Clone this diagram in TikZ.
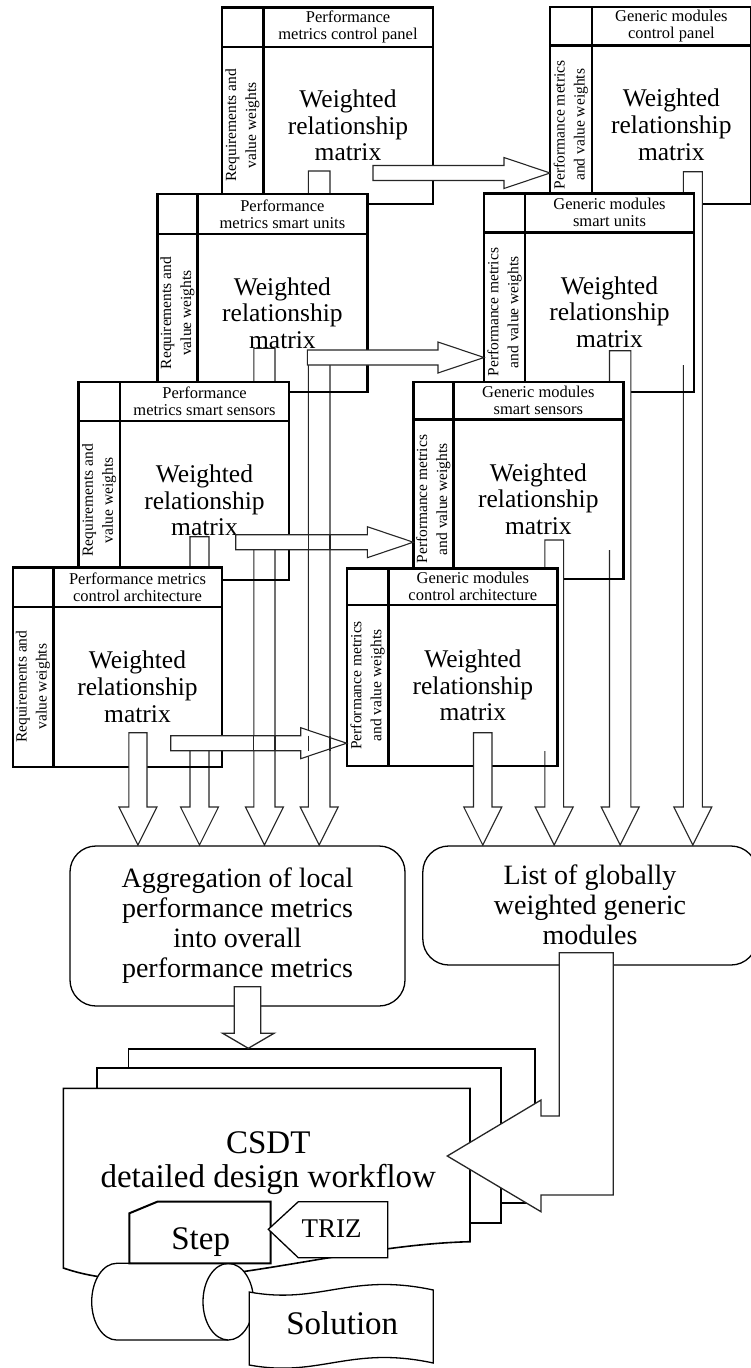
\documentclass[tikz,border=0pt]{standalone}
\usepackage{fontspec}
\setmainfont{Liberation Serif}
\tikzset{
  boxline/.style={draw,line width=2.4pt},
  headtxt/.style={align=center,inner sep=0pt,font=\fontsize{16.5}{17}\selectfont},
  sidetxt/.style={align=center,inner sep=0pt,rotate=90,font=\fontsize{15.5}{20}\selectfont},
  mattxt/.style={align=center,inner sep=0pt,font=\fontsize{25.5}{26.7}\selectfont},
  blk/.style={draw=black!85,line width=1.1pt,fill=white},
  shaftline/.style={draw=black!85,line width=1.1pt},
  roundbox/.style={draw,line width=1.3pt,fill=white,rounded corners=26pt},
  bigtxt/.style={align=center,inner sep=0pt,font=\fontsize{28}{30}\selectfont},
  sheet/.style={draw,fill=white,line width=1.3pt},
}
% box: name, left, top, right, bottom, column x, header y, header, side text
\newcommand{\wrmbox}[9]{%
  \draw[boxline] (#2,#3) rectangle (#4,#5);
  \draw[boxline] (#6,#3) -- (#6,#5);
  \draw[boxline] (#2,#7) -- (#4,#7);
  \node[headtxt] (#1-head) at ({(#6+#4)/2},{(#3+#7)/2}) {#8};
  \node[sidetxt] (#1-side) at ({(#2+#6)/2},{(#7+#5)/2}) {#9};
  \node[mattxt] (#1-mat) at ({(#6+#4)/2},{(#7+#5)/2}) {Weighted\\relationship\\matrix};
}
% block arrow down: left, right, top, tip
\newcommand{\downblk}[4]{%
  \pgfmathsetmacro{\blkmid}{(#1+#2)/2}
  \draw[blk] (#1,#3) -- (#1,#4-38) -- (\blkmid-19,#4-38) -- (\blkmid,#4)
    -- (\blkmid+19,#4-38) -- (#2,#4-38) -- (#2,#3) -- cycle;
}
% block arrow right: start, centre y, tip
\newcommand{\rightblk}[3]{%
  \draw[blk] (#1,#2-7.5) -- (#3-46,#2-7.5) -- (#3-46,#2-15.5) -- (#3,#2)
    -- (#3-46,#2+15.5) -- (#3-46,#2+7.5) -- (#1,#2+7.5) -- cycle;
}

\begin{document}
\begin{tikzpicture}[x=1pt,y=-1pt]
\useasboundingbox (0,0) rectangle (750,1368);

% control panel
\fill[white] (221.7,7.3) rectangle (432.7,204);
\wrmbox{pcp}{221.7}{7.3}{432.7}{204}{263.3}{46.7}{Performance\\metrics control panel}{Requirements and\\value weights}
\downblk{308.3}{330}{171}{845}
\fill[white] (550,6.7) rectangle (751,204);
\wrmbox{gcp}{550}{6.7}{751}{204}{591.7}{45.5}{Generic modules\\control panel}{Performance metrics\\and value weights}
\downblk{683.3}{702.4}{171.7}{845}
\rightblk{373}{173}{550}

% smart units
\fill[white] (157.3,194) rectangle (367.5,365);
\wrmbox{psu}{157.3}{194}{367.5}{392}{197.3}{234}{Performance\\metrics smart units}{Requirements and\\value weights}
\downblk{253.8}{275}{348.3}{845}
\fill[white] (484,193.3) rectangle (694,365);
\wrmbox{gsu}{484}{193.3}{694}{392}{525}{232.3}{Generic modules\\smart units}{Performance metrics\\and value weights}
\downblk{609.5}{630.8}{350.7}{845}
\rightblk{307.3}{357.5}{484}

% smart sensors
\fill[white] (78.3,381.7) rectangle (289,550);
\wrmbox{pss}{78.3}{381.7}{289}{580}{120}{420.7}{Performance\\metrics smart sensors}{Requirements and\\value weights}
\downblk{190}{209}{536.7}{845}
\fill[white] (413.3,381.7) rectangle (623.3,550);
\wrmbox{gss}{413.3}{381.7}{623.3}{579}{453.3}{419.3}{Generic modules\\smart sensors}{Performance metrics\\and value weights}
\downblk{544.8}{563.6}{540}{845}
\rightblk{235.7}{542.2}{413.3}
\draw[shaftline] (308.3,534.7) -- (308.3,549.7) (330,534.7) -- (330,549.7);

% control architecture
\fill[white] (12.7,567.3) rectangle (221.7,751);
\wrmbox{pca}{12.7}{567.3}{221.7}{766.7}{53.3}{606.7}{Performance metrics\\control architecture}{Requirements and\\value weights}
\downblk{128.8}{147}{732.7}{845}
\fill[white] (346.7,568.3) rectangle (557.3,751);
\wrmbox{gca}{346.7}{568.3}{557.3}{765.7}{388.3}{605}{Generic modules\\control architecture}{Performance metrics\\and value weights}
\downblk{473.5}{492}{732.7}{845}
\rightblk{170.7}{743.2}{346.7}
\draw[shaftline] (253.8,735.7) -- (253.8,750.7) (275,735.7) -- (275,750.7)
  (308.3,735.7) -- (308.3,750.7) (330,735.7) -- (330,750.7);

% aggregation and list
\draw[roundbox] (70,846) rectangle (405,1006);
\node[bigtxt] (agg) at (237.5,925.5) {Aggregation of local\\performance metrics\\into overall\\performance metrics};
\draw[roundbox] (422.8,846) rectangle (757,965);
\node[bigtxt] (list) at (590,905) {List of globally\\weighted generic\\modules};

% workflow sheets
\draw[sheet] (128.3,1049) rectangle (535,1203);
\draw[sheet,line width=1.9pt] (97.3,1068.3) rectangle (500.7,1223.3);
\draw[sheet,line width=1.6pt] (63.3,1268) -- (63.3,1088.3) -- (470,1088.3) -- (470,1241.7)
  .. controls (330,1245) and (170,1305) .. (63.3,1268) -- cycle;
\node[align=center,inner sep=0pt,font=\fontsize{33}{34}\selectfont] (csdt) at (268.3,1163) {CSDT\\detailed design workflow};

\draw[blk,line width=1.3pt] (234.3,986.7) -- (234.3,1033.3) -- (222.7,1033.3) -- (248.3,1048.3)
  -- (274,1033.3) -- (260.7,1033.3) -- (260.7,986.7) -- cycle;
\draw[blk,line width=1.3pt] (559.3,952.7) -- (559.3,1116) -- (541,1116) -- (541,1100) -- (447.3,1156)
  -- (541,1211.7) -- (541,1195) -- (613.3,1195) -- (613.3,952.7) -- cycle;

% database, step, triz, solution
\draw[sheet] (228.3,1263.3) -- (116.7,1263.3) .. controls (102.9,1263.3) and (91.7,1280.5) .. (91.7,1301.7)
  .. controls (91.7,1322.9) and (102.9,1340) .. (116.7,1340) -- (228.3,1340);
\draw[sheet] (228.3,1301.7) ellipse [x radius=25.3pt, y radius=38.3pt];
\draw[sheet,line width=2pt] (129.3,1263.3) -- (129.3,1213.3) -- (157.3,1201.7) -- (270.7,1201.7) -- (270.7,1263.3) -- cycle;
\node[anchor=base,inner sep=0pt,font=\fontsize{33}{35}\selectfont] (step) at (200.7,1249.3) {Step};
\draw[sheet] (268.3,1229.3) -- (298.3,1201.7) -- (387.7,1201.7) -- (387.7,1257.7) -- (298.3,1257.7) -- cycle;
\node[anchor=base,inner sep=0pt,font=\fontsize{27}{29}\selectfont] (triz) at (331.7,1237.3) {TRIZ};
\draw[sheet] (249.3,1292) .. controls (320,1305) and (350,1272) .. (433.3,1290) -- (433.3,1363)
  .. controls (350,1345) and (320,1378) .. (249.3,1365) -- cycle;
\node[anchor=base,inner sep=0pt,font=\fontsize{33}{35}\selectfont] (sol) at (342.3,1334.3) {Solution};
\end{tikzpicture}
\end{document}
